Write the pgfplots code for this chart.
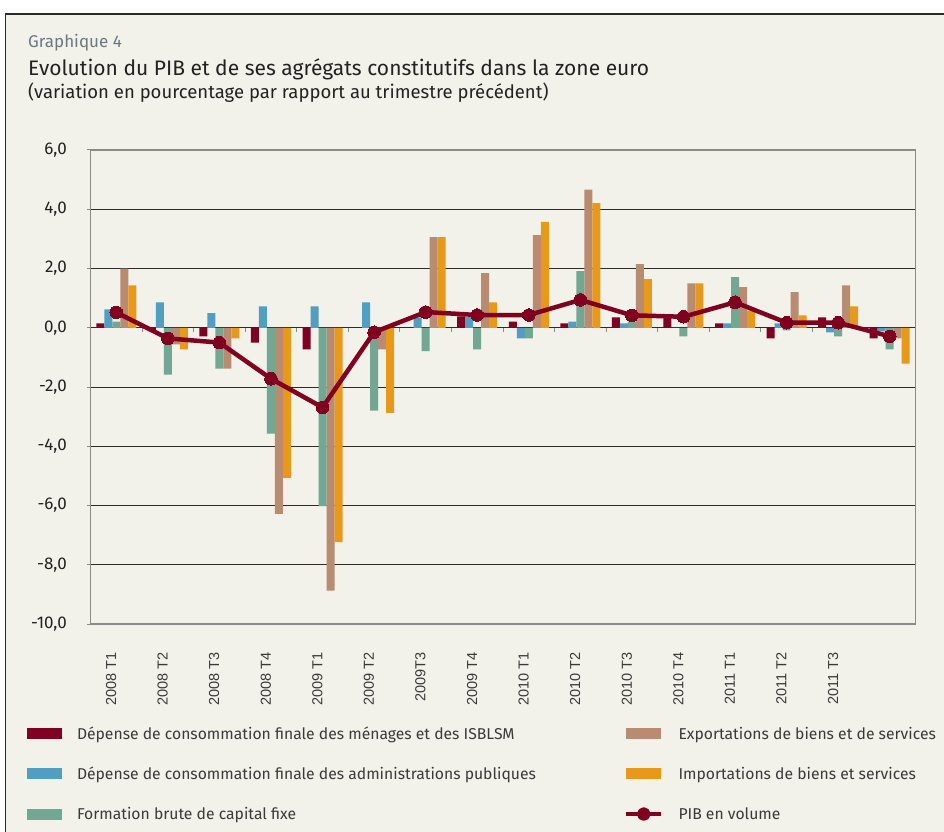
\documentclass[border=0pt]{standalone}
\usepackage{fontspec}
\setmainfont{Fira Sans}
\newfontfamily\xlabfont{Liberation Sans}
\usepackage{pgfplots}
\pgfplotsset{compat=1.18}
\usepackage{pgfplotstable}
\definecolor{redc}{HTML}{7E0023}
\definecolor{bluec}{HTML}{519EC1}
\definecolor{greenc}{HTML}{72A794}
\definecolor{brownc}{HTML}{B98C72}
\definecolor{orangec}{HTML}{E8981B}
\definecolor{pibc}{HTML}{80001F}
\definecolor{bgc}{HTML}{F2F1EA}
\definecolor{gridc}{HTML}{2B2B2B}
\definecolor{axisc}{HTML}{8A8A8A}
\definecolor{graphc}{HTML}{6A7886}
\definecolor{titlec}{HTML}{222222}
\definecolor{textc}{HTML}{3A3A3A}
\definecolor{framec}{HTML}{2A2A2A}

\pgfplotstableread{
x red blue green brown orange pib
0 0.15 0.62 0.21 2.00 1.43 0.52
1 -0.10 0.86 -1.58 -0.56 -0.73 -0.36
2 -0.29 0.49 -1.38 -1.38 -0.36 -0.50
3 -0.50 0.72 -3.57 -6.28 -5.07 -1.72
4 -0.73 0.72 -6.02 -8.87 -7.24 -2.69
5 0.00 0.86 -2.80 -0.73 -2.87 -0.15
6 0.00 0.35 -0.79 3.06 3.06 0.53
7 0.38 0.36 -0.73 1.84 0.86 0.43
8 0.21 -0.36 -0.36 3.13 3.57 0.43
9 0.15 0.21 1.91 4.66 4.21 0.94
10 0.35 0.15 0.21 2.15 1.64 0.42
11 0.34 0.00 -0.29 1.50 1.50 0.37
12 0.15 0.15 1.71 1.37 0.58 0.86
13 -0.36 0.15 -0.09 1.20 0.42 0.17
14 0.35 -0.16 -0.29 1.43 0.72 0.17
15 -0.36 -0.12 -0.73 -0.36 -1.21 -0.29
}\datatable

\begin{document}
\begin{tikzpicture}[x=1pt,y=1pt]
\fill[white] (0,0) rectangle (944,831);
\draw[framec, line width=1.5pt, fill=bgc] (5.5,-20) rectangle (970,817);
\node[anchor=base west, inner sep=0pt, text=graphc, font=\fontsize{17}{20}\selectfont] at (28,783) {Graphique 4};
\node[anchor=base west, inner sep=0pt, text=titlec, font=\fontsize{21}{25}\selectfont] at (28,755) {Evolution du PIB et de ses agrégats constitutifs dans la zone euro};
\node[anchor=base west, inner sep=0pt, text=titlec, font=\fontsize{18.5}{22}\selectfont] at (28,732) {(variation en pourcentage par rapport au trimestre précédent)};

% tick marks on the zero line
\begin{axis}[scale only axis, width=825pt, height=474pt, at={(90.5pt,207pt)}, anchor=south west,
  xmin=-0.5, xmax=15.5, ymin=-10, ymax=6,
  axis x line*=middle, axis y line=none,
  xtick={0.5,1.5,...,13.5}, xticklabels={}, ytick=\empty,
  x axis line style={draw=none},
  xtick style={draw=axisc, line width=1pt},
  major tick length=4pt, xtick align=outside]
\end{axis}

\begin{axis}[scale only axis, width=825pt, height=474pt, at={(90.5pt,207pt)}, anchor=south west,
  xmin=-0.5, xmax=15.5, ymin=-10, ymax=6,
  ytick={-10,-8,-6,-4,-2,0,2,4,6},
  xtick={-0.1,0.9,1.9,2.9,3.9,4.9,5.9,6.9,7.9,8.9,9.9,10.9,11.9,12.9,13.9},
  xticklabels={2008 T1,2008 T2,2008 T3,2008 T4,2009 T1,2009 T2,2009T3,2009 T4,2010 T1,2010 T2,2010 T3,2010 T4,2011 T1,2011 T2,2011 T3},
  xticklabel style={rotate=90, anchor=east, inner sep=0pt, font=\xlabfont\fontsize{14.5}{16}\selectfont, text=textc},
  xticklabel shift=24pt,
  xtick style={draw=none},
  yticklabel style={inner sep=0pt, font=\fontsize{17}{20}\selectfont, text=titlec},
  yticklabel shift=19.5pt,
  ytick style={draw=axisc, line width=1pt},
  major tick length=4pt, tick align=outside, ytick pos=left, xtick pos=bottom,
  ymajorgrids, major grid style={draw=gridc, line width=1pt},
  axis line style={draw=axisc, line width=1.3pt},
  legend columns=2,
  legend style={at={(-0.07697,-0.21793)}, anchor=north west, draw=none, fill=none,
    inner sep=0pt, outer sep=0pt, row sep=24pt,
    font=\fontsize{15.7}{19}\selectfont, text=textc,
    nodes={inner sep=0pt, text height=12pt, text depth=4pt, anchor=base west},
    /tikz/every odd column/.append style={column sep=15pt},
    /tikz/every even column/.append style={column sep=0pt}},
  /pgf/number format/fixed, /pgf/number format/fixed zerofill,
  /pgf/number format/precision=1, /pgf/number format/use comma,
  /pgf/number format/assume math mode=true]

\addplot[ybar, bar width=8pt, bar shift=-16pt, fill=redc, draw=none,
  legend image code/.code={\fill[redc] (0pt,0pt) rectangle (35pt,11pt);}]
  table[x=x, y=red]{\datatable};
\addlegendentry{\makebox[547pt][l]{Dépense de consommation finale des ménages et des ISBLSM}}
\addplot[ybar, bar width=8pt, bar shift=8pt, fill=brownc, draw=none,
  legend image code/.code={\fill[brownc] (0pt,0pt) rectangle (35pt,11pt);}]
  table[x=x, y=brown]{\datatable};
\addlegendentry{Exportations de biens et de services}
\addplot[ybar, bar width=8pt, bar shift=-8pt, fill=bluec, draw=none,
  legend image code/.code={\fill[bluec] (0pt,0pt) rectangle (35pt,11pt);}]
  table[x=x, y=blue]{\datatable};
\addlegendentry{\makebox[547pt][l]{Dépense de consommation finale des administrations publiques}}
\addplot[ybar, bar width=8pt, bar shift=16pt, fill=orangec, draw=none,
  legend image code/.code={\fill[orangec] (0pt,0pt) rectangle (35pt,11pt);}]
  table[x=x, y=orange]{\datatable};
\addlegendentry{Importations de biens et services}
\addplot[ybar, bar width=8pt, bar shift=0pt, fill=greenc, draw=none,
  legend image code/.code={\fill[greenc] (0pt,0pt) rectangle (35pt,11pt);}]
  table[x=x, y=green]{\datatable};
\addlegendentry{\makebox[547pt][l]{Formation brute de capital fixe}}
\addplot[color=pibc, line width=4.5pt, line join=round, mark=*, mark size=6.3pt,
  mark options={fill=pibc, draw=pibc, line width=0pt},
  legend image code/.code={\draw[pibc, line width=4.5pt] (0pt,5.5pt) -- (35pt,5.5pt); \fill[pibc] (17.5pt,5.5pt) circle (4.5pt);}]
  table[x=x, y=pib]{\datatable};
\addlegendentry{PIB en volume}
\end{axis}
\pgfresetboundingbox
\useasboundingbox (0,0) rectangle (944,831);
\end{tikzpicture}
\end{document}
